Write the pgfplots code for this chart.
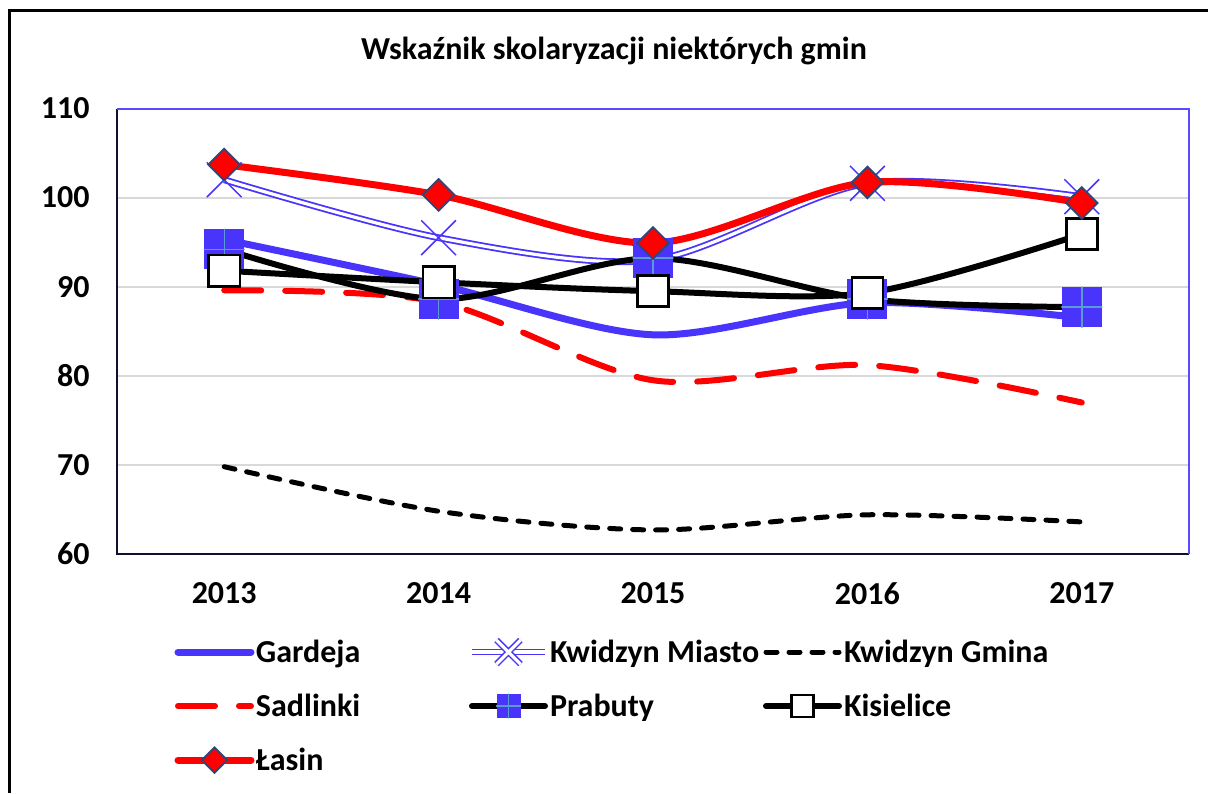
\documentclass[border=0pt]{standalone}
\usepackage{fontspec}
\setmainfont{Carlito}
\usepackage{pgfplots}
\pgfplotsset{compat=1.18}
\definecolor{mblue}{RGB}{72,52,250}
\definecolor{lblue}{RGB}{91,155,213}
\definecolor{dnavy}{RGB}{47,70,120}
\definecolor{gridgray}{RGB}{217,217,217}
\definecolor{frameblue}{RGB}{90,75,255}
\definecolor{framedark}{RGB}{15,15,50}
\pgfdeclareplotmark{sqplus}{%
  \pgfpathrectangle{\pgfpoint{-\pgfplotmarksize}{-\pgfplotmarksize}}{\pgfpoint{2\pgfplotmarksize}{2\pgfplotmarksize}}%
  \pgfsetfillcolor{mblue}\pgfusepath{fill}%
  \pgfsetstrokecolor{lblue}\pgfsetlinewidth{0.7pt}%
  \pgfpathmoveto{\pgfpoint{-\pgfplotmarksize}{0pt}}\pgfpathlineto{\pgfpoint{\pgfplotmarksize}{0pt}}%
  \pgfpathmoveto{\pgfpoint{0pt}{-\pgfplotmarksize}}\pgfpathlineto{\pgfpoint{0pt}{\pgfplotmarksize}}%
  \pgfusepath{stroke}}
\newcommand{\legbb}{\pgfpathrectangle{\pgfpoint{0pt}{-13.5pt}}{\pgfpoint{36.5pt}{27pt}}\pgfusepath{use as bounding box}}
\pgfplotsset{mylegimg/.style={legend image code/.code={\legbb \draw[mark repeat=2,mark phase=2,##1,mark size=#1] plot coordinates {(0pt,0pt) (18.25pt,0pt) (36.5pt,0pt)};}}}
\newcommand{\lf}{\fontsize{16}{19}\selectfont\bfseries}
\begin{document}
\begin{tikzpicture}
\useasboundingbox (0,0) rectangle (604pt,396.5pt);
\fill[white] (0,0) rectangle (604pt,396.5pt);
\draw[black, line width=1.5pt] (4.5pt,0pt) -- (4.5pt,391pt) -- (604pt,391pt);
\node[font=\lf, anchor=base] at (307pt,366.5pt) {Wskaźnik skolaryzacji niektórych gmin};
\begin{axis}[
  at={(58.5pt,119.5pt)}, anchor=south west,
  scale only axis, width=536pt, height=222.75pt,
  xmin=2012.5, xmax=2017.5, ymin=60, ymax=110,
  xtick={2013,2014,2015,2016,2017}, ytick={60,70,80,90,100,110},
  major tick length=0pt,
  ymajorgrids, grid style={draw=gridgray, line width=1pt},
  axis line style={draw=none},
  tick label style={font=\lf, inner sep=0pt},
  xticklabel style={anchor=north, yshift=-14pt},
  yticklabel style={anchor=east, xshift=-13.5pt},
  /pgf/number format/1000 sep={},
  /pgf/number format/assume math mode=true,
  legend columns=3,
  legend cell align=left,
  legend image code/.code={\legbb \draw[#1] (0pt,0pt) -- (36.5pt,0pt);},
  legend style={draw=none, fill=none, at={(0.0569,-0.1594)}, anchor=north west,
    inner sep=0pt, outer sep=0pt, row sep=0pt, font=\lf,
    nodes={inner sep=0pt, text height=11pt, text depth=1pt},
    /tikz/every odd column/.append style={column sep=2.5pt},
    /tikz/every even column/.append style={column sep=0pt}},
  after end axis/.code={
    \draw[framedark, line width=1pt] (rel axis cs:0,1) -- (rel axis cs:0,0) -- (rel axis cs:1,0);
    \draw[frameblue, line width=1pt] (rel axis cs:0,1) -- (rel axis cs:1,1) -- (rel axis cs:1,0);
  },
]
\addplot[mblue, line width=3.5pt, smooth, line cap=round] coordinates {(2013,95.3) (2014,90.2) (2015,84.6) (2016,88.2) (2017,86.5)};
\addlegendentry{\makebox[108pt][l]{Gardeja}}

\addplot[mblue, line width=0.9pt, double=white, double distance=1.6pt, smooth,
  legend image code/.code={\legbb \draw[mblue, line width=0.9pt, double=white, double distance=1.6pt] (0pt,0pt) -- (36.5pt,0pt); \draw[mblue,line width=0.75pt] (12.25pt,-6pt) -- (24.25pt,6pt) (12.25pt,6pt) -- (24.25pt,-6pt);}]
  coordinates {(2013,102.0) (2014,95.5) (2015,93.0) (2016,101.6) (2017,100.1)};
\addlegendentry{\makebox[108pt][l]{Kwidzyn Miasto}}
\addplot[mblue, line width=0.75pt, only marks, mark=x, mark size=12.3pt, forget plot]
  coordinates {(2013,102.0) (2014,95.5) (2015,93.0) (2016,101.6) (2017,100.1)};

\addplot[black, line width=2.5pt, smooth, line cap=round, dash pattern=on 5.5pt off 6pt] coordinates {(2013,69.8) (2014,64.8) (2015,62.7) (2016,64.4) (2017,63.6)};
\addlegendentry{\makebox[108pt][l]{Kwidzyn Gmina}}

\addplot[red, line width=3pt, smooth, line cap=round, dash pattern=on 18.5pt off 12pt] coordinates {(2013,89.6) (2014,88.3) (2015,79.5) (2016,81.2) (2017,77.0)};
\addlegendentry{\makebox[108pt][l]{Sadlinki}}

\addplot[black, line width=3pt, smooth, line cap=round, mark=sqplus, mark size=10pt, mark options={solid}, mylegimg=6pt] coordinates {(2013,94.2) (2014,88.6) (2015,93.2) (2016,88.6) (2017,87.7)};
\addlegendentry{\makebox[108pt][l]{Prabuty}}

\addplot[black, line width=3pt, smooth, line cap=round, mark=square*, mark size=7.8pt, mark options={solid, fill=white, draw=black, line width=1.3pt}, mylegimg=5.5pt] coordinates {(2013,91.8) (2014,90.5) (2015,89.5) (2016,89.3) (2017,95.9)};
\addlegendentry{\makebox[108pt][l]{Kisielice}}

\addplot[red, line width=3.5pt, smooth, line cap=round, mark=square*, mark size=5.6pt, mark options={solid, rotate=45, fill=red, draw=dnavy, line width=0.9pt}, mylegimg=4.5pt] coordinates {(2013,103.7) (2014,100.3) (2015,94.9) (2016,101.7) (2017,99.4)};
\addlegendentry{\makebox[108pt][l]{Łasin}}
\end{axis}
\end{tikzpicture}
\end{document}
